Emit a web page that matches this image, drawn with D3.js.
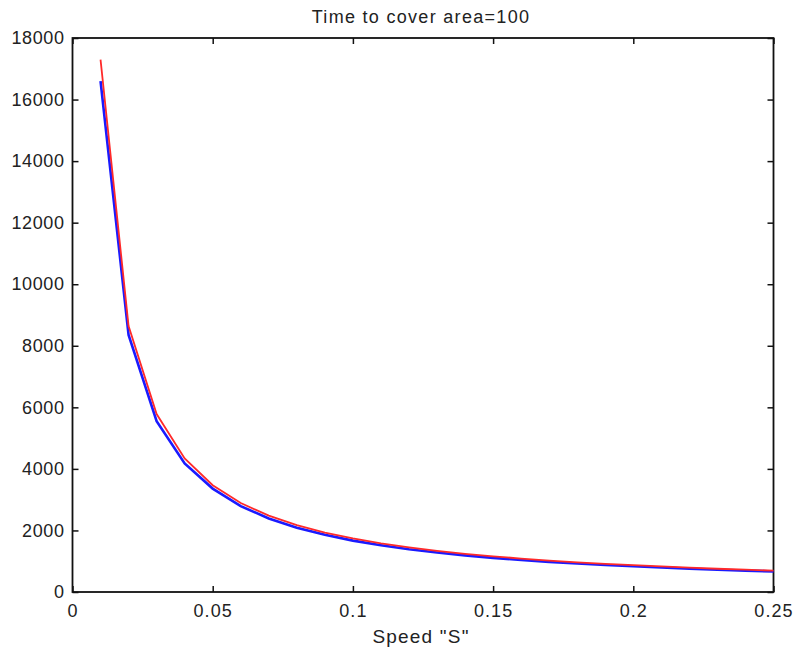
<!DOCTYPE html>
<html><head><meta charset="utf-8">
<script src="https://cdn.jsdelivr.net/npm/d3@7"></script>
<style>body{margin:0;background:#fff}svg{display:block}text{font-family:"Liberation Sans",Arial,sans-serif;fill:#222}</style>
</head><body>
<script>
const speeds = [0.01,0.02,0.03,0.04,0.05,0.06,0.07,0.08,0.09,0.10,0.11,0.12,0.13,0.14,0.15,0.16,0.17,0.18,0.19,0.20,0.21,0.22,0.23,0.24,0.25];
const blueSeries = [16600,8350,5550,4180,3360,2790,2390,2090,1860,1670,1520,1390,1285,1190,1110,1040,980,925,875,835,795,760,725,695,668];
const redSeries  = [17300,8640,5780,4340,3470,2890,2480,2170,1930,1740,1580,1450,1335,1240,1160,1085,1020,965,915,870,830,790,755,725,695];
const xTicks = [0,0.05,0.1,0.15,0.2,0.25];
const yTicks = [0,2000,4000,6000,8000,10000,12000,14000,16000,18000];
const title = "Time to cover area=100";
const xLabel = 'Speed "S"';

const W=798,H=652, L=72.5, R=773.5, T=38, B=592;
const svg=d3.select("body").append("svg").attr("width",W).attr("height",H);
const x=d3.scaleLinear().domain([0,0.25]).range([L,R]);
const y=d3.scaleLinear().domain([0,18000]).range([B,T]);
const tl=6;
const fmt=d=>String(d);
svg.append("g").attr("transform",`translate(0,${B})`)
  .call(d3.axisBottom(x).tickValues(xTicks).tickFormat(fmt).tickSizeInner(-tl).tickSizeOuter(0).tickPadding(10))
  .call(g=>{g.select(".domain").remove();
    g.selectAll("text").attr("font-size",18).attr("letter-spacing",1.1).attr("fill","#222").attr("dy",null).attr("y",25);
    g.selectAll("line").attr("stroke","#111").attr("stroke-width",1.5);});
svg.append("g").attr("transform",`translate(0,${T})`)
  .call(d3.axisTop(x).tickValues(xTicks).tickFormat("").tickSizeInner(-tl).tickSizeOuter(0))
  .call(g=>{g.select(".domain").remove();g.selectAll("line").attr("stroke","#111").attr("stroke-width",1.5);});
svg.append("g").attr("transform",`translate(${L},0)`)
  .call(d3.axisLeft(y).tickValues(yTicks).tickFormat(fmt).tickSizeInner(-tl).tickSizeOuter(0).tickPadding(8))
  .call(g=>{g.select(".domain").remove();
    g.selectAll("text").attr("font-size",18).attr("letter-spacing",0.6).attr("fill","#222");
    g.selectAll("line").attr("stroke","#111").attr("stroke-width",1.5);});
svg.append("g").attr("transform",`translate(${R},0)`)
  .call(d3.axisRight(y).tickValues(yTicks).tickFormat("").tickSizeInner(-tl).tickSizeOuter(0))
  .call(g=>{g.select(".domain").remove();g.selectAll("line").attr("stroke","#111").attr("stroke-width",1.5);});
svg.append("rect").attr("x",L).attr("y",T).attr("width",R-L).attr("height",B-T)
  .attr("fill","none").attr("stroke","#111").attr("stroke-width",1.8);

const line=d3.line().x((d,i)=>x(speeds[i])).y(d=>y(d));
svg.append("path").datum(blueSeries).attr("d",line).attr("fill","none").attr("stroke","#1a1aff").attr("stroke-width",2.6);
svg.append("path").datum(redSeries).attr("d",line).attr("fill","none").attr("stroke","#ff2a2a").attr("stroke-width",1.8);

svg.append("text").attr("x",421).attr("y",23).attr("text-anchor","middle").attr("font-size",18).attr("letter-spacing",1.3).text(title);
svg.append("text").attr("x",421).attr("y",643).attr("text-anchor","middle").attr("font-size",19).attr("letter-spacing",1.2).text(xLabel);
</script>
</body></html>
